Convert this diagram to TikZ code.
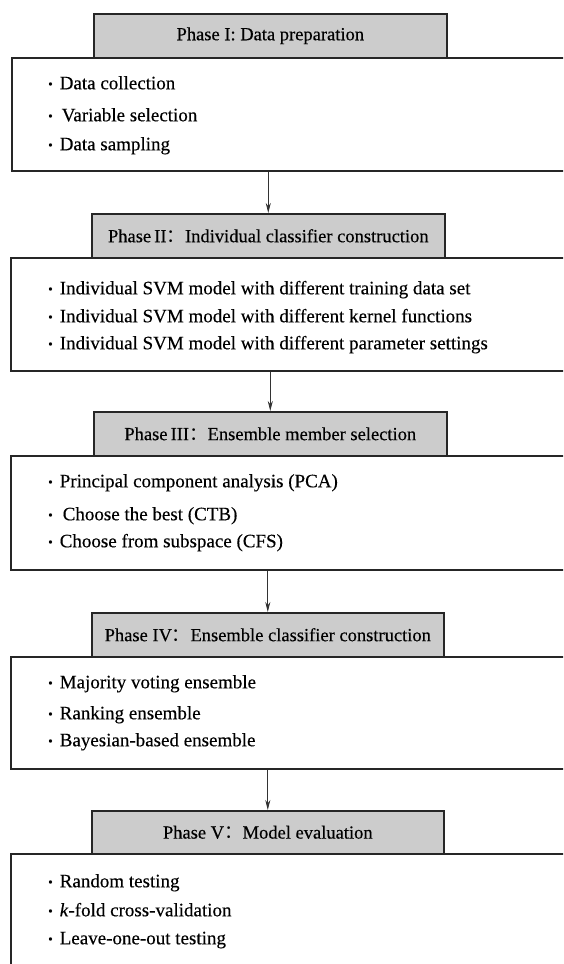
\documentclass[tikz,border=0pt]{standalone}
\usepackage{fontspec}
\setmainfont{Liberation Serif}[FakeBold=0.3]
\newfontfamily\cjk{Noto Sans CJK SC}
\usetikzlibrary{arrows.meta}
\begin{document}
\begin{tikzpicture}[x=1pt,y=-1pt,
 hdr/.style={draw=black!85, line width=1.6pt, fill=black!20, anchor=north west, inner sep=0pt, minimum height=44pt, minimum width=353pt, font=\fontsize{18.5}{20}\selectfont, text=black},
 bodybox/.style={draw=black!85, line width=1.6pt, fill=white, anchor=north west, inner sep=0pt, minimum width=620pt},
 item/.style={anchor=mid west, inner sep=0pt, font=\fontsize{19}{22}\selectfont, text=black},
 arr/.style={draw=black!80, line width=0.8pt, -{Stealth[length=10pt,width=5pt]}}]
\newcommand{\bul}{{\fontsize{13}{13}\selectfont\raisebox{1pt}{•}}\hspace{7pt}}
\useasboundingbox (0,0) rectangle (563,964);
\clip (0,0) rectangle (563,964);
\fill[white] (0,0) rectangle (563,964);

% Phase I
\node[bodybox, minimum height=113pt] (b1) at (11,57) {};
\node[hdr] (h1) at (93,13) {Phase I: Data preparation};
\node[item] (i11) at (48,87) {\bul Data collection};
\node[item] (i12) at (48,119) {\bul\hspace{2pt}Variable selection};
\node[item] (i13) at (48,148) {\bul Data sampling};

% Phase II
\node[bodybox, minimum height=113pt] (b2) at (10,257) {};
\node[hdr] (h2) at (91,213) {Phase\,II{\cjk ：}Individual classifier construction};
\node[item] (i21) at (48,292) {\bul Individual SVM model with different training data set};
\node[item] (i22) at (48,320) {\bul Individual SVM model with different kernel functions};
\node[item] (i23) at (48,347) {\bul Individual SVM model with different parameter settings};

% Phase III
\node[bodybox, minimum height=114pt] (b3) at (10,455) {};
\node[hdr] (h3) at (93,411) {Phase\,III{\cjk ：}Ensemble member selection};
\node[item] (i31) at (48,485) {\bul Principal component analysis (PCA)};
\node[item] (i32) at (48,518) {\bul\hspace{3pt}Choose the best (CTB)};
\node[item] (i33) at (48,545) {\bul Choose from subspace (CFS)};

% Phase IV
\node[bodybox, minimum height=112pt] (b4) at (10,656) {};
\node[hdr, minimum width=352pt] (h4) at (91,612) {Phase IV{\cjk ：}Ensemble classifier construction};
\node[item] (i41) at (48,686) {\bul Majority voting ensemble};
\node[item] (i42) at (48,717) {\bul Ranking ensemble};
\node[item] (i43) at (48,744) {\bul Bayesian-based ensemble};

% Phase V
\node[bodybox, minimum height=160pt] (b5) at (10,853) {};
\node[hdr, minimum width=352pt, minimum height=43pt] (h5) at (91,810) {Phase V{\cjk ：}Model evaluation};
\node[item] (i51) at (48,885) {\bul Random testing};
\node[item] (i52) at (48,914) {\bul\textit{k}-fold cross-validation};
\node[item] (i53) at (48,942) {\bul Leave-one-out testing};

% arrows
\draw[arr] (h2.north |- b1.south) -- (h2.north);
\draw[arr] (h3.north |- b2.south) -- (h3.north);
\draw[arr] (h4.north |- b3.south) -- (h4.north);
\draw[arr] (h5.north |- b4.south) -- (h5.north);
\end{tikzpicture}
\end{document}
